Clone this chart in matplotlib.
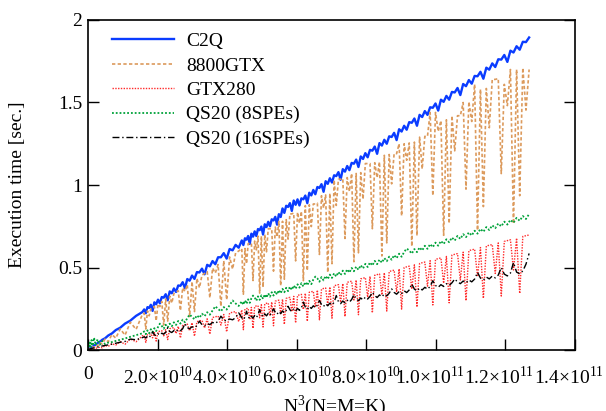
import numpy as np
import matplotlib
matplotlib.use('Agg')
import matplotlib.pyplot as plt
import matplotlib.transforms as mtransforms

plt.rcParams['font.family'] = 'Liberation Serif'
plt.rcParams['mathtext.fontset'] = 'custom'
plt.rcParams['mathtext.rm'] = 'Liberation Serif'
plt.rcParams['font.size'] = 14

# matrix size N (N=M=K)
n_values = [100, 200, 300, 400, 500, 600, 700, 800, 900, 1000, 1100, 1200, 1300,
            1400, 1500, 1600, 1700, 1800, 1900, 2000, 2100, 2200, 2300, 2400, 2500,
            2528, 2552, 2576, 2600, 2624, 2648, 2672, 2696, 2720, 2744, 2768, 2792,
            2816, 2840, 2864, 2888, 2912, 2936, 2960, 2984, 3008, 3032, 3056, 3080,
            3104, 3128, 3152, 3176, 3200, 3224, 3248, 3272, 3296, 3320, 3344, 3368,
            3392, 3416, 3440, 3464, 3488, 3512,
            3536, 3548, 3560, 3572, 3584, 3596, 3608, 3620, 3632, 3644, 3656, 3668,
            3680, 3692, 3704, 3716, 3728, 3740, 3752, 3764, 3776, 3788, 3800, 3812,
            3824, 3836, 3848, 3860, 3872, 3884, 3896, 3908, 3920, 3932, 3944, 3956,
            3968, 3980, 3992, 4004, 4016, 4028, 4040, 4052, 4064, 4076, 4088, 4100,
            4112, 4124, 4136, 4148, 4160, 4172, 4184, 4196, 4208, 4220, 4232, 4244,
            4256, 4268, 4280, 4292, 4304, 4316, 4328, 4340, 4352, 4364, 4376, 4388,
            4400, 4412, 4424, 4436, 4448, 4460, 4472, 4484, 4496, 4508, 4520, 4532,
            4544, 4556, 4568, 4580, 4592, 4604, 4616, 4628, 4640, 4652, 4664, 4676,
            4688, 4700, 4712, 4724, 4736, 4748, 4760, 4772, 4784, 4796, 4808, 4820,
            4832, 4844, 4856, 4868, 4880, 4892, 4904, 4916, 4928, 4940, 4952, 4964,
            4976, 4988, 5000, 5012, 5024]

# execution time [sec.]
c2q = [0.000, 0.001, 0.001, 0.002, 0.002, 0.004, 0.005, 0.009, 0.011, 0.016, 0.019, 0.027, 0.032,
       0.042, 0.049, 0.062, 0.071, 0.088, 0.100, 0.121, 0.135, 0.160, 0.178, 0.207, 0.230,
       0.246, 0.223, 0.260, 0.255, 0.274, 0.237, 0.289, 0.277, 0.305, 0.283, 0.321, 0.317,
       0.338, 0.301, 0.355, 0.344, 0.373, 0.352, 0.391, 0.389, 0.411, 0.375, 0.430, 0.420,
       0.451, 0.431, 0.472, 0.470, 0.493, 0.459, 0.516, 0.507, 0.539, 0.520, 0.562, 0.562,
       0.587, 0.554, 0.612, 0.604, 0.637, 0.620,
       0.664, 0.636, 0.677, 0.669, 0.691, 0.643, 0.705, 0.687, 0.719, 0.691, 0.733, 0.726,
       0.748, 0.700, 0.762, 0.745, 0.777, 0.750, 0.792, 0.785, 0.807, 0.760, 0.823, 0.806,
       0.858, 0.831, 0.874, 0.867, 0.890, 0.843, 0.906, 0.880, 0.913, 0.876, 0.919, 0.913,
       0.936, 0.890, 0.953, 0.937, 0.970, 0.944, 0.988, 0.982, 1.005, 0.959, 1.023, 1.007,
       1.041, 1.015, 1.059, 1.054, 1.078, 1.032, 1.096, 1.081, 1.115, 1.090, 1.134, 1.129,
       1.154, 1.109, 1.173, 1.158, 1.193, 1.168, 1.213, 1.208, 1.233, 1.189, 1.254, 1.239,
       1.274, 1.250, 1.295, 1.291, 1.316, 1.272, 1.338, 1.324, 1.359, 1.335, 1.381, 1.377,
       1.403, 1.359, 1.425, 1.412, 1.448, 1.425, 1.471, 1.468, 1.494, 1.451, 1.517, 1.504,
       1.540, 1.517, 1.564, 1.561, 1.588, 1.545, 1.612, 1.599, 1.636, 1.614, 1.661, 1.659,
       1.686, 1.644, 1.711, 1.699, 1.737, 1.715, 1.762, 1.760, 1.788, 1.746, 1.814, 1.803,
       1.841, 1.820, 1.868, 1.866, 1.894]

gtx8800 = [0.000, 0.000, 0.001, 0.001, 0.002, 0.002, 0.004, 0.006, 0.010, 0.008, 0.018, 0.015, 0.030,
           0.024, 0.046, 0.036, 0.067, 0.050, 0.094, 0.072, 0.128, 0.090, 0.168, 0.125, 0.215,
           0.224, 0.127, 0.237, 0.207, 0.250, 0.257, 0.264, 0.177, 0.279, 0.263, 0.294, 0.151,
           0.309, 0.175, 0.326, 0.284, 0.342, 0.351, 0.359, 0.239, 0.377, 0.355, 0.396, 0.203,
           0.415, 0.233, 0.434, 0.377, 0.454, 0.464, 0.475, 0.316, 0.496, 0.466, 0.518, 0.265,
           0.541, 0.304, 0.564, 0.490, 0.588, 0.600,
           0.615, 0.338, 0.615, 0.523, 0.645, 0.645, 0.648, 0.421, 0.660, 0.607, 0.690, 0.345,
           0.690, 0.380, 0.700, 0.595, 0.735, 0.735, 0.735, 0.478, 0.745, 0.685, 0.780, 0.390,
           0.780, 0.429, 0.790, 0.672, 0.825, 0.825, 0.830, 0.540, 0.835, 0.768, 0.840, 0.420,
           0.875, 0.481, 0.880, 0.748, 0.885, 0.885, 0.890, 0.579, 0.935, 0.860, 0.940, 0.470,
           0.950, 0.523, 1.030, 0.876, 1.035, 1.035, 1.040, 0.676, 1.045, 0.961, 1.070, 0.535,
           1.070, 0.589, 1.075, 0.914, 1.130, 1.130, 1.130, 0.735, 1.135, 1.044, 1.140, 0.570,
           1.180, 0.649, 1.185, 1.007, 1.190, 1.190, 1.250, 0.813, 1.250, 1.150, 1.255, 0.628,
           1.260, 0.693, 1.290, 1.097, 1.295, 1.295, 1.440, 0.936, 1.440, 1.325, 1.390, 0.695,
           1.395, 0.767, 1.420, 1.207, 1.420, 1.420, 1.500, 0.975, 1.505, 1.385, 1.610, 0.725,
           1.580, 0.869, 1.585, 1.347, 1.640, 1.640, 1.645, 1.069, 1.610, 1.481, 1.700, 0.765,
           1.700, 0.935, 1.710, 1.454, 1.700]

gtx280 = [0.000, 0.000, 0.000, 0.000, 0.001, 0.001, 0.002, 0.002, 0.004, 0.005, 0.007, 0.006, 0.012,
          0.011, 0.018, 0.013, 0.027, 0.022, 0.038, 0.030, 0.051, 0.035, 0.067, 0.050, 0.086,
          0.089, 0.046, 0.094, 0.097, 0.099, 0.074, 0.105, 0.054, 0.111, 0.114, 0.117, 0.086,
          0.123, 0.063, 0.129, 0.133, 0.136, 0.100, 0.143, 0.073, 0.150, 0.153, 0.157, 0.116,
          0.165, 0.084, 0.172, 0.176, 0.180, 0.133, 0.189, 0.096, 0.197, 0.201, 0.206, 0.151,
          0.215, 0.110, 0.224, 0.229, 0.233, 0.172,
          0.243, 0.123, 0.248, 0.251, 0.253, 0.184, 0.258, 0.131, 0.264, 0.267, 0.269, 0.195,
          0.274, 0.139, 0.280, 0.283, 0.285, 0.207, 0.291, 0.147, 0.296, 0.299, 0.302, 0.220,
          0.308, 0.155, 0.313, 0.316, 0.319, 0.232, 0.325, 0.164, 0.331, 0.334, 0.337, 0.245,
          0.344, 0.174, 0.350, 0.353, 0.356, 0.259, 0.363, 0.183, 0.369, 0.373, 0.376, 0.273,
          0.382, 0.193, 0.389, 0.393, 0.396, 0.288, 0.403, 0.203, 0.410, 0.414, 0.417, 0.303,
          0.424, 0.214, 0.431, 0.435, 0.439, 0.319, 0.446, 0.225, 0.453, 0.457, 0.461, 0.334,
          0.468, 0.236, 0.476, 0.480, 0.484, 0.351, 0.492, 0.248, 0.500, 0.504, 0.508, 0.369,
          0.516, 0.260, 0.524, 0.529, 0.533, 0.387, 0.541, 0.273, 0.549, 0.554, 0.558, 0.405,
          0.567, 0.286, 0.575, 0.580, 0.584, 0.424, 0.593, 0.299, 0.602, 0.607, 0.611, 0.444,
          0.621, 0.313, 0.630, 0.635, 0.639, 0.464, 0.649, 0.327, 0.658, 0.663, 0.668, 0.485,
          0.678, 0.342, 0.688, 0.693, 0.697]

qs20_8 = [0.010, 0.012, 0.015, 0.020, 0.018, 0.030, 0.024, 0.045, 0.020, 0.060, 0.025, 0.075, 0.030,
          0.065, 0.032, 0.055, 0.036, 0.045, 0.048, 0.055, 0.062, 0.070, 0.080, 0.090, 0.101,
          0.113, 0.096, 0.119, 0.102, 0.126, 0.109, 0.132, 0.115, 0.139, 0.160, 0.146, 0.129,
          0.153, 0.137, 0.160, 0.144, 0.168, 0.152, 0.176, 0.160, 0.184, 0.168, 0.193, 0.215,
          0.201, 0.186, 0.210, 0.195, 0.220, 0.205, 0.229, 0.214, 0.239, 0.265, 0.249, 0.234,
          0.260, 0.245, 0.271, 0.300, 0.282, 0.267,
          0.295, 0.274, 0.301, 0.280, 0.307, 0.286, 0.313, 0.330, 0.319, 0.298, 0.325, 0.304,
          0.331, 0.310, 0.337, 0.317, 0.344, 0.323, 0.350, 0.330, 0.357, 0.336, 0.363, 0.343,
          0.370, 0.350, 0.377, 0.357, 0.384, 0.364, 0.391, 0.371, 0.398, 0.378, 0.405, 0.385,
          0.412, 0.392, 0.419, 0.399, 0.427, 0.445, 0.434, 0.414, 0.442, 0.422, 0.449, 0.429,
          0.457, 0.437, 0.465, 0.445, 0.473, 0.453, 0.481, 0.461, 0.489, 0.469, 0.497, 0.477,
          0.505, 0.486, 0.514, 0.494, 0.522, 0.503, 0.531, 0.512, 0.540, 0.520, 0.548, 0.529,
          0.557, 0.538, 0.566, 0.547, 0.575, 0.556, 0.584, 0.565, 0.594, 0.615, 0.603, 0.584,
          0.612, 0.593, 0.622, 0.603, 0.632, 0.613, 0.642, 0.623, 0.651, 0.632, 0.661, 0.642,
          0.671, 0.653, 0.682, 0.663, 0.692, 0.673, 0.702, 0.684, 0.713, 0.694, 0.723, 0.705,
          0.734, 0.716, 0.745, 0.727, 0.756, 0.738, 0.767, 0.749, 0.778, 0.760, 0.789, 0.771,
          0.801, 0.783, 0.812, 0.794, 0.824]

qs20_16 = [0.002, 0.002, 0.003, 0.003, 0.004, 0.004, 0.005, 0.006, 0.008, 0.009, 0.011, 0.013, 0.015,
           0.018, 0.021, 0.024, 0.028, 0.031, 0.036, 0.041, 0.047, 0.052, 0.066, 0.062, 0.075,
           0.080, 0.073, 0.084, 0.077, 0.088, 0.110, 0.093, 0.086, 0.098, 0.091, 0.102, 0.096,
           0.107, 0.135, 0.112, 0.106, 0.118, 0.111, 0.123, 0.117, 0.129, 0.160, 0.135, 0.129,
           0.141, 0.135, 0.147, 0.175, 0.153, 0.147, 0.160, 0.154, 0.167, 0.161, 0.174, 0.205,
           0.181, 0.176, 0.188, 0.183, 0.196, 0.225,
           0.196, 0.184, 0.199, 0.235, 0.202, 0.190, 0.205, 0.193, 0.209, 0.197, 0.212, 0.245,
           0.215, 0.203, 0.219, 0.207, 0.222, 0.210, 0.226, 0.250, 0.229, 0.217, 0.233, 0.221,
           0.237, 0.225, 0.240, 0.265, 0.244, 0.232, 0.248, 0.236, 0.252, 0.240, 0.256, 0.290,
           0.260, 0.248, 0.264, 0.252, 0.268, 0.256, 0.272, 0.300, 0.276, 0.264, 0.280, 0.268,
           0.284, 0.273, 0.289, 0.330, 0.293, 0.281, 0.297, 0.286, 0.302, 0.290, 0.306, 0.335,
           0.311, 0.299, 0.315, 0.304, 0.320, 0.309, 0.325, 0.350, 0.330, 0.318, 0.334, 0.323,
           0.339, 0.328, 0.344, 0.370, 0.349, 0.338, 0.354, 0.343, 0.359, 0.348, 0.364, 0.400,
           0.369, 0.358, 0.375, 0.364, 0.380, 0.369, 0.385, 0.420, 0.391, 0.380, 0.396, 0.385,
           0.402, 0.391, 0.407, 0.430, 0.413, 0.402, 0.418, 0.407, 0.424, 0.413, 0.430, 0.470,
           0.436, 0.425, 0.442, 0.431, 0.448, 0.437, 0.454, 0.500, 0.460, 0.449, 0.466, 0.530,
           0.472, 0.462, 0.479, 0.520, 0.585]

x_ticks = [0, 2.0e10, 4.0e10, 6.0e10, 8.0e10, 1.0e11, 1.2e11, 1.4e11]
x_tick_labels = ['0', '2.0×10$^{10}$', '4.0×10$^{10}$', '6.0×10$^{10}$', '8.0×10$^{10}$',
                 '1.0×10$^{11}$', '1.2×10$^{11}$', '1.4×10$^{11}$']
y_ticks = [0, 0.5, 1, 1.5, 2]
y_tick_labels = ['0', '0.5', '1', '1.5', '2']

n3 = np.array(n_values, dtype=float) ** 3

fig = plt.figure(figsize=(6.06, 4.11), dpi=100)
ax = fig.add_axes([88 / 606, 61 / 411, 487 / 606, 330 / 411])

ax.plot(n3, c2q, color='#0a3cff', lw=1.7, label='C2Q')
ax.plot(n3, gtx8800, color='#dc9a5c', lw=1.2, linestyle=(0, (2, 1.4)), label='8800GTX')
ax.plot(n3, gtx280, color='#ff2a2a', lw=1.0, linestyle=(0, (1, 1)), label='GTX280')
ax.plot(n3, qs20_8, color='#00a23a', lw=1.3, linestyle=(0, (1, 1.1)), label='QS20 (8SPEs)')
ax.plot(n3, qs20_16, color='black', lw=1.0, linestyle=(0, (5, 2, 1, 2)), label='QS20 (16SPEs)')

ax.set_xlim(0, 1.4e11)
ax.set_ylim(0, 2)
ax.set_xticks(x_ticks)
ax.set_xticklabels(x_tick_labels)
ax.set_yticks(y_ticks)
ax.set_yticklabels(y_tick_labels)
ax.tick_params(direction='in', length=8, width=1, right=True, top=False)
ax.tick_params(axis='x', pad=11.5)
ax.tick_params(axis='y', pad=4)
for s in ax.spines.values():
    s.set_linewidth(1.2)

# the 10^11 labels sit a little left of their ticks
shift = mtransforms.ScaledTranslation(-6 / 100, 0, fig.dpi_scale_trans)
for lbl in ax.get_xticklabels()[5:]:
    lbl.set_transform(lbl.get_transform() + shift)

ax.set_ylabel('Execution time [sec.]')
ax.yaxis.set_label_coords(-0.127, 0.5)
ax.set_xlabel('N$^{3}$(N=M=K)', va='baseline')
ax.xaxis.set_label_coords(0.507, -0.188)

ax.legend(loc='upper left', bbox_to_anchor=(0.049, 0.962), frameon=False,
          borderpad=0, borderaxespad=0, handlelength=3.2, handletextpad=0.62,
          labelspacing=0.35)

fig.savefig('out.png', dpi=100)
